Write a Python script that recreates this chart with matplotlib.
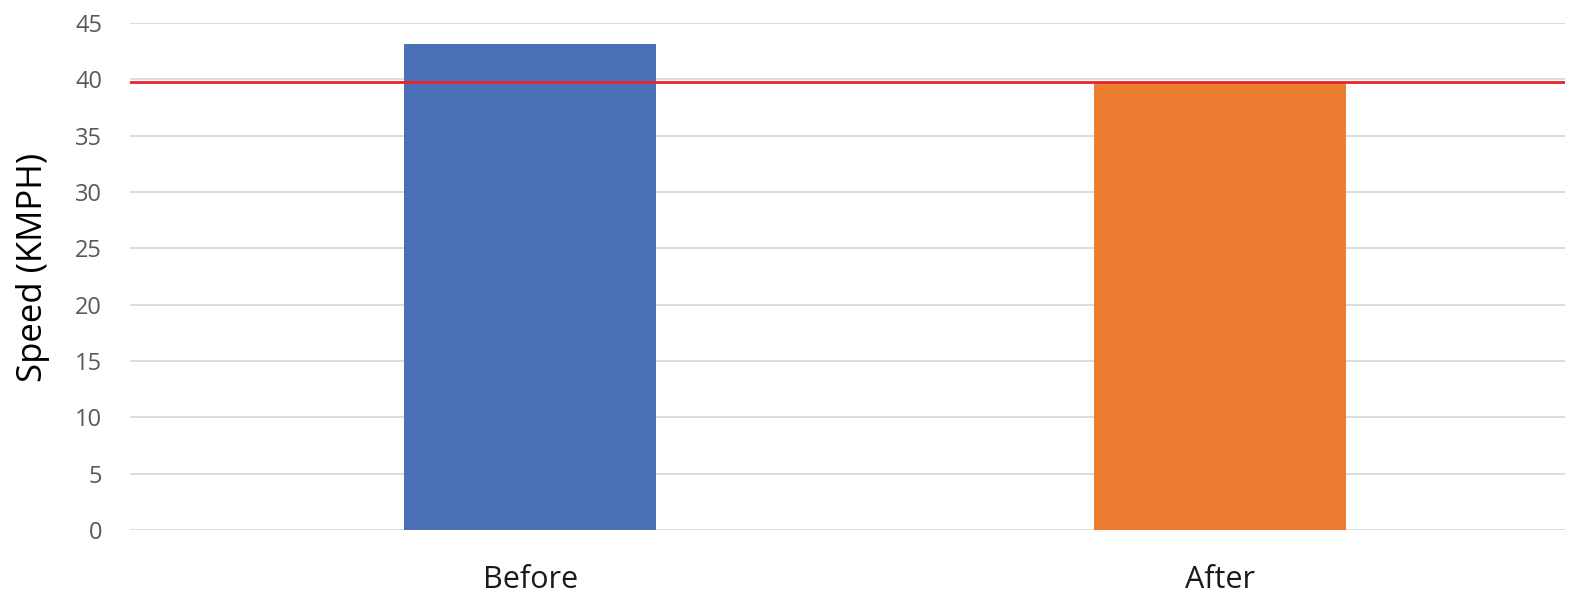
import matplotlib.pyplot as plt

# Average speed before and after, with the limit line
categories = ['Before', 'After']
speeds = [43.1, 39.7]
bar_colors = ['#4a70b5', '#ed7d31']
speed_limit = 39.8
y_ticks = list(range(0, 50, 5))

plt.rcParams['font.family'] = ['Open Sans', 'DejaVu Sans']

fig = plt.figure(figsize=(15.75, 5.97), dpi=100)
ax = fig.add_axes([130 / 1575, 1 - 530 / 597, (1565 - 130) / 1575, (530 - 23) / 597])

x = list(range(len(categories)))
ax.bar(x, speeds, width=0.365, color=bar_colors, zorder=2)
ax.axhline(speed_limit, color='#e8242b', linewidth=2, zorder=3)

ax.set_xlim(-0.58, 1.5)
ax.set_ylim(0, 45)
ax.set_yticks(y_ticks)
ax.set_yticklabels([str(t) for t in y_ticks], fontsize=17, color='#595959')
ax.set_xticks(x)
ax.set_xticklabels(categories, fontsize=22, color='#1a1a1a')
ax.tick_params(axis='both', length=0)
ax.tick_params(axis='y', pad=20)
ax.tick_params(axis='x', pad=25)
ax.grid(axis='y', color='#d9d9d9', linewidth=1.3, zorder=0)
for s in ax.spines.values():
    s.set_visible(False)

ax.set_ylabel('Speed (KMPH)', fontsize=25, color='black')
ax.yaxis.set_label_coords(-0.0557, 0.517)

fig.savefig('out.png', dpi=100)
